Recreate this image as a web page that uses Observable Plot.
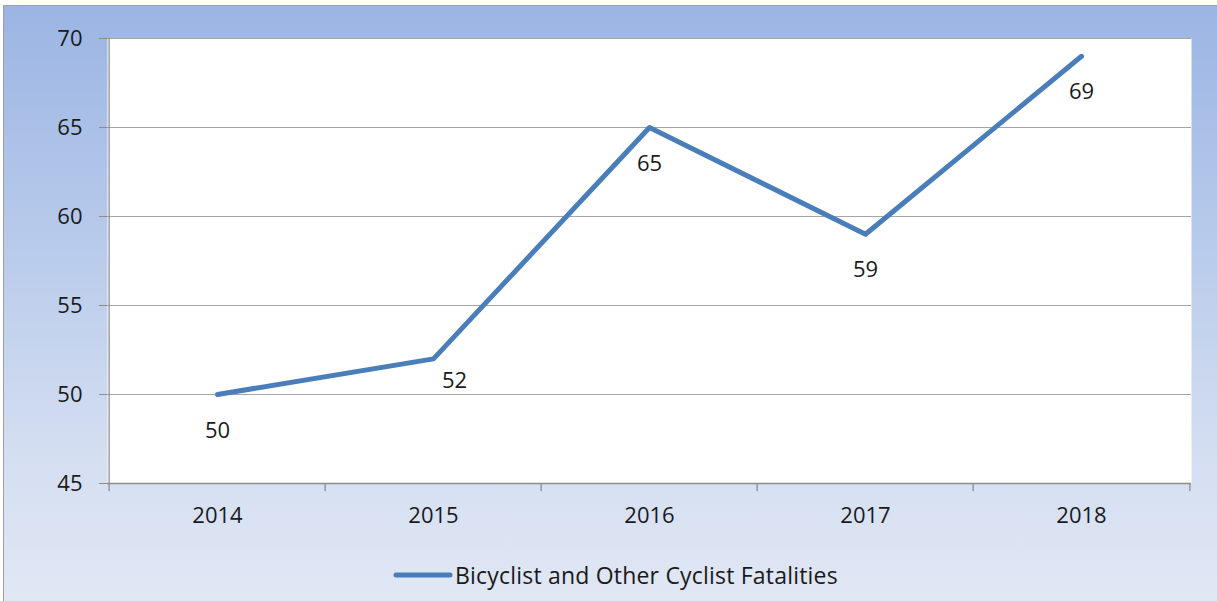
<!DOCTYPE html>
<html>
<head>
<meta charset="utf-8">
<script src="https://cdn.jsdelivr.net/npm/d3@7"></script>
<script src="https://cdn.jsdelivr.net/npm/@observablehq/plot@0.6"></script>
<style>
  html, body { margin: 0; padding: 0; width: 1217px; height: 601px; overflow: hidden; background: #fff; }
  #wrap { position: relative; width: 1217px; height: 601px; }
  #bg { position: absolute; left: 3px; top: 5px; width: 1230px; height: 610px;
        border: 1px solid #a0a0a0;
        background: linear-gradient(to bottom, #9bb5e3 0%, #b9cbeb 40%, #d5dff1 75%, #e2e8f5 100%); }
  #chart { position: absolute; left: 0; top: 0; }
  #legend { position: absolute; left: 393px; top: 559px; display: flex; align-items: center;
            font-family: "Open Sans", sans-serif; font-size: 23px; letter-spacing: 0.2px; color: #1a1a1a; }
  #legend svg { margin-right: 2px; }
</style>
</head>
<body>
<div id="wrap">
  <div id="bg"></div>
  <div id="chart"></div>
  <div id="legend"></div>
</div>
<script>
const years = ["2014", "2015", "2016", "2017", "2018"];
const fatalities = [50, 52, 65, 59, 69];
const yTicks = [45, 50, 55, 60, 65, 70];
const seriesName = "Bicyclist and Other Cyclist Fatalities";

const lineColor = "#4a7ebb";
const data = years.map((year, i) => ({year, value: fatalities[i]}));
const step = (1191 - 107) / years.length;

const chart = Plot.plot({
  width: 1217,
  height: 601,
  marginLeft: 107,
  marginRight: 26,
  marginTop: 38,
  marginBottom: 118,
  style: {background: "transparent", fontFamily: "Open Sans, sans-serif", fontSize: "22px", color: "#1a1a1a"},
  x: {type: "point", domain: years, padding: 0.5, label: null},
  y: {domain: [45, 70], label: null},
  marks: [
    Plot.frame({fill: "white", stroke: null}),
    Plot.ruleY(yTicks.slice(1), {stroke: "#a6a6a6", strokeWidth: 1}),
    Plot.ruleY([45], {stroke: "#8c8c8c", strokeWidth: 1.3}),
    Plot.ruleX([years[0]], {dx: -step / 2, stroke: "#8c8c8c", strokeWidth: 1.3}),
    Plot.ruleX(years, {y1: 45, y2: 45, dx: -step / 2, insetBottom: -8, stroke: "#8c8c8c", strokeWidth: 1.3}),
    Plot.ruleX([years[years.length - 1]], {y1: 45, y2: 45, dx: step / 2, insetBottom: -8, stroke: "#8c8c8c", strokeWidth: 1.3}),
    Plot.axisY({ticks: yTicks, tickSize: 8, tickPadding: 17, stroke: "#8c8c8c", fontSize: 22, tickFormat: d => String(d)}),
    Plot.axisX({tickSize: 0, tickPadding: 24, fontSize: 22}),
    Plot.line(data, {x: "year", y: "value", stroke: lineColor, strokeWidth: 5, strokeLinecap: "round", strokeLinejoin: "round"}),
    Plot.text(data.filter(d => d.year !== "2015"), {x: "year", y: "value", text: d => String(d.value), dy: 36, fontSize: 22, fill: "#1a1a1a"}),
    Plot.text(data.filter(d => d.year === "2015"), {x: "year", y: "value", text: d => String(d.value), dy: 22, dx: 21, fontSize: 22, fill: "#1a1a1a"})
  ]
});
document.getElementById("chart").appendChild(chart);

const legend = document.getElementById("legend");
legend.innerHTML = `<svg width="60" height="10"><line x1="3" y1="5" x2="57" y2="5" stroke="${lineColor}" stroke-width="5" stroke-linecap="round"/></svg><span>${seriesName}</span>`;
</script>
</body>
</html>
